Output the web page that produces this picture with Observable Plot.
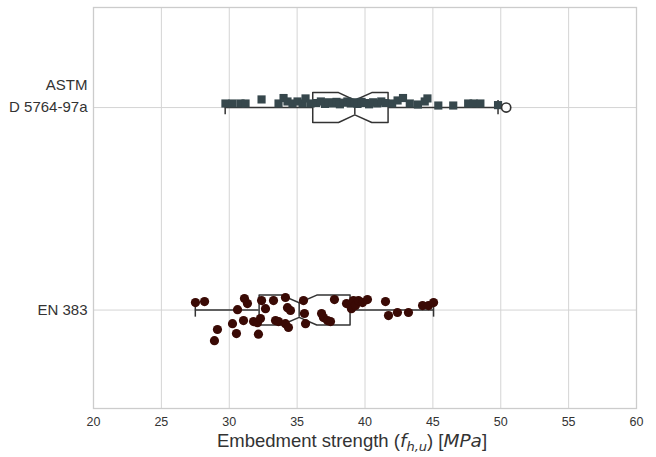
<!DOCTYPE html>
<html><head><meta charset="utf-8">
<script src="https://cdn.jsdelivr.net/npm/d3@7"></script>
<script src="https://cdn.jsdelivr.net/npm/@observablehq/plot@0.6"></script>
<style>body{margin:0;background:#fff}</style>
</head><body><div id="chart"></div>
<script>
// ---- data ----
const categories = ["ASTM\nD 5764-97a", "EN 383"];
const xTicks = [20, 25, 30, 35, 40, 45, 50, 55, 60];

const astmValues = [29.72, 30.24, 30.83, 31.20, 32.38, 33.63, 34.00, 34.29, 34.66, 35.03, 35.40, 35.62, 35.99,
  36.40, 36.75, 37.05, 37.35, 37.60, 37.90, 38.15, 38.45, 38.70, 38.95, 39.20, 39.45, 39.75, 40.00, 40.30, 40.60, 40.90, 41.20, 41.50,
  42.00, 42.40, 42.80, 43.30, 43.90, 44.40, 44.60, 45.40, 46.50, 47.60, 48.00, 48.50, 49.80];
const astmJitter = [-0.020, -0.020, -0.020, -0.020, -0.040, -0.020, -0.047, -0.030, -0.020, -0.030, -0.020, -0.045, -0.020,
  -0.022, -0.030, -0.018, -0.026, -0.020, -0.028, -0.016, -0.024, -0.030, -0.020, -0.026, -0.018, -0.028, -0.022, -0.016, -0.026, -0.020, -0.030, -0.022,
  -0.020, -0.035, -0.047, -0.020, -0.015, -0.030, -0.045, -0.010, -0.010, -0.020, -0.020, -0.020, -0.012];

const enValues = [27.51, 28.18, 28.91, 29.13, 30.24, 30.53, 30.61, 31.05, 31.12, 31.34, 31.79, 32.08, 32.15, 32.30, 32.38, 32.67,
  33.26, 33.41, 33.63, 34.14, 34.29, 34.51, 34.14, 34.36, 35.47, 35.54, 35.62, 36.80, 36.94, 37.24, 37.46, 37.75,
  38.64, 39.00, 39.15, 39.30, 39.52, 39.82, 40.18, 41.51, 41.73, 42.39, 43.20, 44.24, 44.68, 45.05];
const enJitter = [-0.037, -0.042, 0.151, 0.096, 0.067, 0.116, -0.002, 0.052, -0.057, -0.032, 0.057, 0.062, 0.119, 0.042, -0.047, -0.007,
  -0.047, 0.052, 0.057, -0.062, -0.012, 0.002, 0.067, 0.086, -0.047, 0.017, 0.067, 0.017, 0.037, 0.052, 0.057, -0.052,
  -0.032, -0.007, -0.047, -0.022, -0.047, -0.037, -0.052, -0.042, 0.027, 0.012, 0.012, -0.022, -0.022, -0.037];

// box statistics per category (index 0 = ASTM, 1 = EN 383)
const boxWhiskerLo = [29.7, 27.5];
const boxQ1 = [36.15, 32.2];
const boxMedian = [39.25, 35.15];
const boxQ3 = [41.7, 38.9];
const boxWhiskerHi = [49.8, 45.05];
const boxNotchLo = [38.05, 33.85];
const boxNotchHi = [40.5, 36.45];
const outlierValues = [50.4];
const outlierGroup = [0];

// ---- geometry (category units) ----
const H = 0.074, NH = 0.036, CH = 0.035;
const idx = [0, 1];
const poly = [];
idx.forEach(i => {
  const c = i;
  [[boxQ1[i], c - H], [boxNotchLo[i], c - H], [boxMedian[i], c - NH], [boxNotchHi[i], c - H], [boxQ3[i], c - H],
   [boxQ3[i], c + H], [boxNotchHi[i], c + H], [boxMedian[i], c + NH], [boxNotchLo[i], c + H], [boxQ1[i], c + H],
   [boxQ1[i], c - H]].forEach(([x, y]) => poly.push({x, y, g: i}));
});

const ink = "#333333";
const chart = Plot.plot({
  width: 656, height: 457,
  marginLeft: 93, marginRight: 20, marginTop: 7, marginBottom: 49,
  style: {fontFamily: "'Liberation Sans', Arial, sans-serif", background: "white", overflow: "visible"},
  x: {domain: [20, 60], label: null},
  y: {domain: [-0.494, 1.486], reverse: true, axis: null},
  marks: [
    Plot.gridX(xTicks, {stroke: "#d4d4d4", strokeOpacity: 1, strokeWidth: 1}),
    Plot.gridY(idx, {stroke: "#d4d4d4", strokeOpacity: 1, strokeWidth: 1}),
    Plot.frame({stroke: "#cccccc", strokeWidth: 1.3}),
    Plot.axisX(xTicks, {tickSize: 0, tickPadding: 9, fontSize: 12.5, fill: ink, label: null}),
    Plot.text(categories, {frameAnchor: "left", y: (d, i) => i, dx: -6, textAnchor: "end",
      lineAnchor: "bottom", lineHeight: 1.45, dy: 4.5, fontSize: 15, fill: ink}),
    Plot.ruleY(idx, {y: i => i, x1: i => boxWhiskerLo[i], x2: i => boxQ1[i], stroke: ink, strokeWidth: 1.5}),
    Plot.ruleY(idx, {y: i => i, x1: i => boxQ3[i], x2: i => boxWhiskerHi[i], stroke: ink, strokeWidth: 1.5}),
    Plot.ruleX(idx, {x: i => boxWhiskerLo[i], y1: i => i - CH, y2: i => i + CH, stroke: ink, strokeWidth: 1.5}),
    Plot.ruleX(idx, {x: i => boxWhiskerHi[i], y1: i => i - CH, y2: i => i + CH, stroke: ink, strokeWidth: 1.5}),
    Plot.line(poly, {x: "x", y: "y", z: "g", fill: "white", stroke: ink, strokeWidth: 1.5}),
    Plot.ruleX(idx, {x: i => boxMedian[i], y1: i => i - NH, y2: i => i + NH, stroke: ink, strokeWidth: 1.5}),
    Plot.dot(astmValues, {x: d => d, y: (d, i) => astmJitter[i], symbol: "square", r: 4.6, fill: "#36474c", stroke: "none"}),
    Plot.dot(enValues, {x: d => d, y: (d, i) => 1 + enJitter[i], r: 4.6, fill: "#3a0a05", stroke: "none"}),
    Plot.dot(outlierValues, {x: d => d, y: (d, i) => outlierGroup[i], r: 4.6, fill: "white", stroke: ink, strokeWidth: 1.6})
  ]
});
document.getElementById("chart").appendChild(chart);

// axis title with math-style italics
const svg = d3.select(chart);
const t = svg.append("text")
  .attr("x", 352).attr("y", 447)
  .attr("text-anchor", "middle")
  .attr("fill", ink)
  .style("font-family", "'Liberation Sans', Arial, sans-serif")
  .style("font-size", "18.5px");
t.append("tspan").text("Embedment strength (");
t.append("tspan").style("font-family", "'DejaVu Sans'").style("font-style", "italic").text("f");
t.append("tspan").style("font-family", "'DejaVu Sans'").style("font-style", "italic").style("font-size", "13px").attr("dy", 4).text("h,u");
t.append("tspan").attr("dy", -4).text(") [");
t.append("tspan").style("font-family", "'DejaVu Sans'").style("font-style", "italic").text("MPa");
t.append("tspan").text("]");
</script>
</body></html>
